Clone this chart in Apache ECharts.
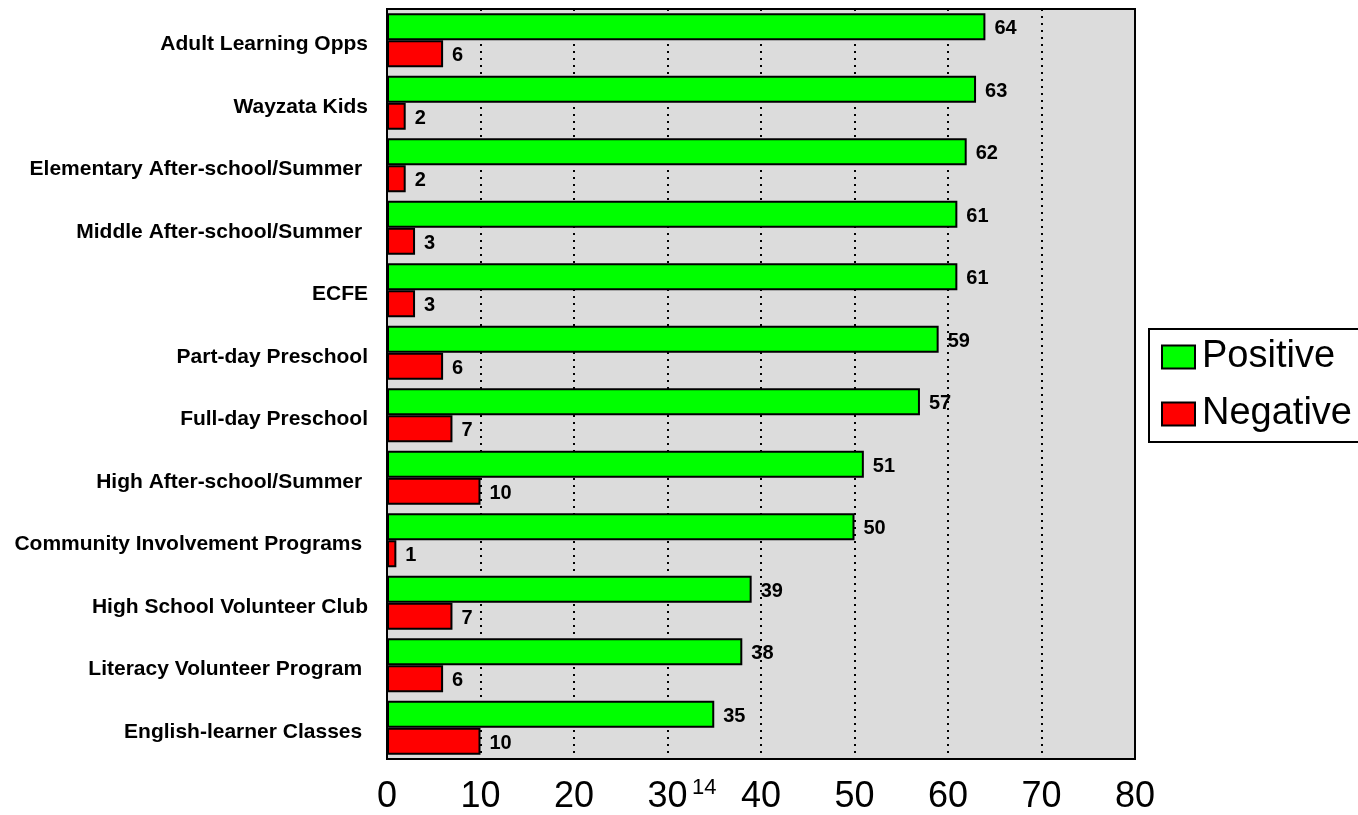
<!DOCTYPE html>
<html>
<head>
<meta charset="utf-8">
<script src="https://cdn.jsdelivr.net/npm/echarts@6/dist/echarts.min.js"></script>
<style>
  html, body { margin: 0; padding: 0; background: #fff; }
  #chart { width: 1358px; height: 815px; }
</style>
</head>
<body>
<div id="chart"></div>
<script>
// programs, top to bottom
var categories = [
  "Adult Learning Opps",
  "Wayzata Kids",
  "Elementary After-school/Summer ",
  "Middle After-school/Summer ",
  "ECFE",
  "Part-day Preschool",
  "Full-day Preschool",
  "High After-school/Summer ",
  "Community Involvement Programs ",
  "High School Volunteer Club",
  "Literacy Volunteer Program ",
  "English-learner Classes "
];
var positive = [64, 63, 62, 61, 61, 59, 57, 51, 50, 39, 38, 35];
var negative = [6, 2, 2, 3, 3, 6, 7, 10, 1, 7, 6, 10];
var xTicks = [0, 10, 20, 30, 40, 50, 60, 70, 80];

var font = "Arial, 'Liberation Sans', sans-serif";
var myChart = echarts.init(document.getElementById("chart"));

// 值标签
var valueLabel = {
  show: true,
  position: "right",
  distance: 9,
  offset: [0, 2],
  color: "#000",
  fontSize: 20,
  fontWeight: "bold",
  fontFamily: font
};

var option = {
  animation: false,
  grid: {
    left: 387,
    top: 9,
    width: 748,
    height: 752,
    show: true,
    backgroundColor: "#dcdcdc",
    borderColor: "#000",
    borderWidth: 2
  },
  legend: {
    orient: "vertical",
    left: 1149,
    top: 329,
    padding: [8, 40, 8, 12],
    borderColor: "#000",
    borderWidth: 2,
    itemWidth: 33,
    itemHeight: 23,
    itemGap: 17,
    icon: "rect",
    itemStyle: { borderColor: "#000", borderWidth: 2 },
    textStyle: {
      color: "#000",
      fontSize: 38,
      lineHeight: 40,
      fontFamily: font,
      padding: [0, 0, 0, 2]
    },
    data: ["Positive", "Negative"]
  },
  xAxis: {
    type: "value",
    min: xTicks[0],
    max: xTicks[xTicks.length - 1],
    interval: 10,
    axisLine: { show: false },
    axisTick: { show: false },
    axisLabel: {
      color: "#000",
      fontSize: 36,
      fontFamily: font,
      margin: 20
    },
    splitLine: {
      show: true,
      lineStyle: { color: "#000", width: 2, type: [2, 5] }
    }
  },
  yAxis: {
    type: "category",
    inverse: true,
    data: categories,
    axisLine: { show: false },
    axisTick: { show: false },
    axisLabel: {
      color: "#000",
      fontSize: 21,
      fontWeight: "bold",
      fontFamily: font,
      margin: 19,
      // 文字略微下移
      verticalAlign: "top",
      lineHeight: 8
    }
  },
  series: [
    {
      name: "Positive",
      type: "bar",
      data: positive,
      barWidth: 27,
      barGap: "0%",
      itemStyle: { color: "#00ff00", borderColor: "#000", borderWidth: 2 },
      label: valueLabel
    },
    {
      name: "Negative",
      type: "bar",
      data: negative,
      barWidth: 27,
      barGap: "0%",
      itemStyle: { color: "#ff0000", borderColor: "#000", borderWidth: 2 },
      label: valueLabel
    }
  ],
  graphic: [
    {
      type: "text",
      left: 692,
      top: 777,
      style: { text: "14", fill: "#000", fontSize: 22, fontFamily: font }
    }
  ]
};

myChart.setOption(option);
</script>
</body>
</html>
